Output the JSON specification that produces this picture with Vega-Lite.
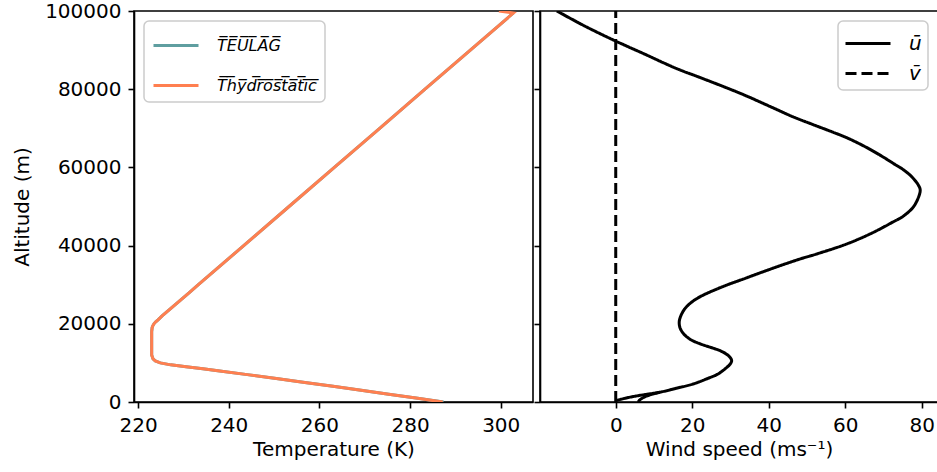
{
  "$schema": "https://vega.github.io/schema/vega-lite/v6.json",
  "background": "white",
  "padding": {"left": 11, "top": 0, "right": 0, "bottom": 0},
  "bounds": "flush",
  "spacing": 7,
  "resolve": {
    "scale": {"color": "independent", "strokeDash": "independent", "x": "independent", "y": "independent"},
    "legend": {"color": "independent", "strokeDash": "independent"}
  },
  "config": {
    "font": "DejaVu Sans",
    "view": {"stroke": "black", "strokeWidth": 1.6},
    "axis": {
      "grid": false,
      "domainColor": "black",
      "domainWidth": 1.6,
      "tickColor": "black",
      "tickWidth": 1.6,
      "tickSize": 6,
      "labelFont": "DejaVu Sans",
      "labelFontSize": 20,
      "labelColor": "black",
      "labelPadding": 7,
      "titleFont": "DejaVu Sans",
      "titleFontSize": 20,
      "titleFontWeight": "normal",
      "titleColor": "black"
    },
    "legend": {
      "title": null,
      "padding": 8,
      "offset": 10,
      "fillColor": "white",
      "strokeColor": "#cccccc",
      "strokeWidth": 1.5,
      "cornerRadius": 5,
      "symbolType": "M-1,0H2",
      "symbolSize": 900,
      "symbolStrokeWidth": 3,
      "labelOffset": 32,
      "labelFont": "DejaVu Sans",
      "labelFontStyle": "italic",
      "labelColor": "black"
    }
  },
  "datasets": {
    "temp": [
      {"alt": 0, "EULAG": 287.4, "hydrostatic": 287.2},
      {"alt": 1000, "EULAG": 281.3, "hydrostatic": 281.3},
      {"alt": 2000, "EULAG": 275.3, "hydrostatic": 275.3},
      {"alt": 3000, "EULAG": 269.2, "hydrostatic": 269.2},
      {"alt": 4000, "EULAG": 263.0, "hydrostatic": 263.0},
      {"alt": 5000, "EULAG": 256.8, "hydrostatic": 256.8},
      {"alt": 6000, "EULAG": 250.5, "hydrostatic": 250.5},
      {"alt": 7000, "EULAG": 244.1, "hydrostatic": 244.1},
      {"alt": 8000, "EULAG": 237.6, "hydrostatic": 237.6},
      {"alt": 8500, "EULAG": 234.3, "hydrostatic": 234.3},
      {"alt": 9000, "EULAG": 230.6, "hydrostatic": 230.6},
      {"alt": 9500, "EULAG": 227.2, "hydrostatic": 227.2},
      {"alt": 10000, "EULAG": 224.9, "hydrostatic": 224.9},
      {"alt": 10500, "EULAG": 223.8, "hydrostatic": 223.8},
      {"alt": 11000, "EULAG": 223.3, "hydrostatic": 223.3},
      {"alt": 12000, "EULAG": 223.0, "hydrostatic": 223.0},
      {"alt": 14000, "EULAG": 223.0, "hydrostatic": 223.0},
      {"alt": 16000, "EULAG": 223.0, "hydrostatic": 223.0},
      {"alt": 18000, "EULAG": 223.0, "hydrostatic": 223.0},
      {"alt": 19000, "EULAG": 223.1, "hydrostatic": 223.1},
      {"alt": 19500, "EULAG": 223.25, "hydrostatic": 223.25},
      {"alt": 20000, "EULAG": 223.5, "hydrostatic": 223.5},
      {"alt": 20500, "EULAG": 223.9, "hydrostatic": 223.9},
      {"alt": 21000, "EULAG": 224.4, "hydrostatic": 224.4},
      {"alt": 22000, "EULAG": 225.3, "hydrostatic": 225.3},
      {"alt": 24000, "EULAG": 227.3, "hydrostatic": 227.3},
      {"alt": 26000, "EULAG": 229.3, "hydrostatic": 229.3},
      {"alt": 28000, "EULAG": 231.3, "hydrostatic": 231.3},
      {"alt": 30000, "EULAG": 233.3, "hydrostatic": 233.3},
      {"alt": 40000, "EULAG": 243.3, "hydrostatic": 243.3},
      {"alt": 50000, "EULAG": 253.3, "hydrostatic": 253.3},
      {"alt": 60000, "EULAG": 263.3, "hydrostatic": 263.3},
      {"alt": 70000, "EULAG": 273.3, "hydrostatic": 273.3},
      {"alt": 80000, "EULAG": 283.3, "hydrostatic": 283.3},
      {"alt": 90000, "EULAG": 293.3, "hydrostatic": 293.3},
      {"alt": 99500, "EULAG": 302.8, "hydrostatic": 302.8},
      {"alt": 100000, "EULAG": null, "hydrostatic": 299.6}
    ],
    "wind": [
      {"alt": 350, "speed": 0.0, "series": "u", "part": "a"},
      {"alt": 900, "speed": 2.2, "series": "u", "part": "a"},
      {"alt": 1400, "speed": 4.6, "series": "u", "part": "a"},
      {"alt": 2000, "speed": 8.3, "series": "u", "part": "a"},
      {"alt": 2500, "speed": 11.5, "series": "u", "part": "a"},
      {"alt": 3500, "speed": 15.8, "series": "u", "part": "a"},
      {"alt": 4600, "speed": 20.2, "series": "u", "part": "a"},
      {"alt": 6000, "speed": 24.0, "series": "u", "part": "a"},
      {"alt": 7200, "speed": 26.8, "series": "u", "part": "a"},
      {"alt": 8500, "speed": 28.6, "series": "u", "part": "a"},
      {"alt": 9800, "speed": 30.0, "series": "u", "part": "a"},
      {"alt": 10600, "speed": 30.3, "series": "u", "part": "a"},
      {"alt": 11500, "speed": 29.8, "series": "u", "part": "a"},
      {"alt": 12800, "speed": 28.0, "series": "u", "part": "a"},
      {"alt": 14900, "speed": 22.0, "series": "u", "part": "a"},
      {"alt": 16000, "speed": 19.5, "series": "u", "part": "a"},
      {"alt": 17500, "speed": 17.7, "series": "u", "part": "a"},
      {"alt": 19000, "speed": 16.8, "series": "u", "part": "a"},
      {"alt": 20500, "speed": 16.6, "series": "u", "part": "a"},
      {"alt": 22000, "speed": 17.0, "series": "u", "part": "a"},
      {"alt": 23900, "speed": 18.1, "series": "u", "part": "a"},
      {"alt": 25500, "speed": 19.8, "series": "u", "part": "a"},
      {"alt": 26900, "speed": 22.0, "series": "u", "part": "a"},
      {"alt": 28500, "speed": 25.5, "series": "u", "part": "a"},
      {"alt": 29900, "speed": 29.0, "series": "u", "part": "a"},
      {"alt": 31500, "speed": 33.5, "series": "u", "part": "a"},
      {"alt": 33300, "speed": 38.5, "series": "u", "part": "a"},
      {"alt": 36300, "speed": 47.3, "series": "u", "part": "a"},
      {"alt": 38000, "speed": 53.0, "series": "u", "part": "a"},
      {"alt": 40100, "speed": 59.5, "series": "u", "part": "a"},
      {"alt": 42000, "speed": 64.3, "series": "u", "part": "a"},
      {"alt": 44000, "speed": 68.6, "series": "u", "part": "a"},
      {"alt": 46000, "speed": 72.4, "series": "u", "part": "a"},
      {"alt": 47400, "speed": 75.0, "series": "u", "part": "a"},
      {"alt": 49000, "speed": 77.0, "series": "u", "part": "a"},
      {"alt": 50000, "speed": 77.9, "series": "u", "part": "a"},
      {"alt": 52000, "speed": 79.0, "series": "u", "part": "a"},
      {"alt": 54200, "speed": 79.6, "series": "u", "part": "a"},
      {"alt": 55500, "speed": 79.1, "series": "u", "part": "a"},
      {"alt": 57500, "speed": 77.5, "series": "u", "part": "a"},
      {"alt": 59400, "speed": 75.2, "series": "u", "part": "a"},
      {"alt": 61000, "speed": 72.6, "series": "u", "part": "a"},
      {"alt": 63200, "speed": 69.0, "series": "u", "part": "a"},
      {"alt": 65500, "speed": 64.8, "series": "u", "part": "a"},
      {"alt": 67500, "speed": 60.6, "series": "u", "part": "a"},
      {"alt": 69000, "speed": 56.8, "series": "u", "part": "a"},
      {"alt": 70900, "speed": 51.7, "series": "u", "part": "a"},
      {"alt": 73000, "speed": 46.2, "series": "u", "part": "a"},
      {"alt": 75600, "speed": 40.3, "series": "u", "part": "a"},
      {"alt": 78600, "speed": 33.4, "series": "u", "part": "a"},
      {"alt": 80500, "speed": 28.6, "series": "u", "part": "a"},
      {"alt": 83300, "speed": 21.2, "series": "u", "part": "a"},
      {"alt": 85000, "speed": 16.6, "series": "u", "part": "a"},
      {"alt": 86700, "speed": 12.6, "series": "u", "part": "a"},
      {"alt": 89000, "speed": 7.5, "series": "u", "part": "a"},
      {"alt": 92300, "speed": 0.0, "series": "u", "part": "a"},
      {"alt": 96100, "speed": -8.0, "series": "u", "part": "a"},
      {"alt": 100000, "speed": -15.4, "series": "u", "part": "a"},
      {"alt": 0, "speed": 5.9, "series": "u", "part": "b"},
      {"alt": 350, "speed": 6.1, "series": "u", "part": "b"},
      {"alt": 900, "speed": 6.8, "series": "u", "part": "b"},
      {"alt": 1500, "speed": 8.0, "series": "u", "part": "b"},
      {"alt": 2000, "speed": 9.6, "series": "u", "part": "b"},
      {"alt": 2500, "speed": 11.5, "series": "u", "part": "b"},
      {"alt": 0, "speed": 0, "series": "v", "part": "c"},
      {"alt": 100000, "speed": 0, "series": "v", "part": "c"}
    ]
  },
  "hconcat": [
    {
      "width": 399,
      "height": 391,
      "data": {"name": "temp"},
      "transform": [{"fold": ["EULAG", "hydrostatic"], "as": ["series", "T"]}],
      "mark": {"type": "line", "strokeWidth": 3, "clip": true},
      "encoding": {
        "x": {
          "field": "T", "type": "quantitative",
          "scale": {"domain": [219.1, 307.12], "nice": false, "zero": false},
          "axis": {"values": [220, 240, 260, 280, 300], "title": "Temperature (K)", "titlePadding": 4}
        },
        "y": {
          "field": "alt", "type": "quantitative",
          "scale": {"domain": [0, 100000], "nice": false},
          "axis": {"values": [0, 20000, 40000, 60000, 80000, 100000], "format": "d", "title": "Altitude (m)", "titlePadding": 12}
        },
        "order": {"field": "alt", "type": "quantitative"},
        "color": {
          "field": "series", "type": "nominal",
          "scale": {"domain": ["EULAG", "hydrostatic"], "range": ["#5f9ea0", "#ff7f50"]},
          "legend": {
            "orient": "top-left",
            "labelFontSize": 16,
            "rowPadding": 15,
            "labelExpr": "datum.label == 'EULAG' ? 'T\u0305E\u0305U\u0305L\u0305A\u0305G\u0305' : 'T\u0305h\u0305y\u0305d\u0305r\u0305o\u0305s\u0305t\u0305a\u0305t\u0305i\u0305c\u0305'"
          }
        }
      }
    },
    {
      "width": 398,
      "height": 391,
      "data": {"name": "wind"},
      "mark": {"type": "line", "strokeWidth": 3, "clip": true, "interpolate": "catmull-rom"},
      "encoding": {
        "x": {
          "field": "speed", "type": "quantitative",
          "scale": {"domain": [-19.8, 84.25], "nice": false, "zero": false},
          "axis": {"values": [0, 20, 40, 60, 80], "title": "Wind speed (ms\u207b\u00b9)", "titlePadding": 4}
        },
        "y": {
          "field": "alt", "type": "quantitative",
          "scale": {"domain": [0, 100000], "nice": false},
          "axis": {"values": [0, 20000, 40000, 60000, 80000, 100000], "labels": false, "title": null}
        },
        "order": {"field": "alt", "type": "quantitative"},
        "detail": {"field": "part", "type": "nominal"},
        "color": {
          "field": "series", "type": "nominal",
          "scale": {"domain": ["u", "v"], "range": ["black", "black"]},
          "legend": {
            "orient": "top-right",
            "labelFontSize": 20,
            "rowPadding": 3,
            "padding": 6,
            "labelExpr": "datum.label == 'u' ? '\u016b' : 'v\u0304'"
          }
        },
        "strokeDash": {
          "field": "series", "type": "nominal",
          "scale": {"domain": ["u", "v"], "range": [[1, 0], [11, 5]]},
          "legend": {
            "orient": "top-right",
            "labelFontSize": 20,
            "rowPadding": 3,
            "padding": 6,
            "labelExpr": "datum.label == 'u' ? '\u016b' : 'v\u0304'"
          }
        }
      }
    }
  ]
}
